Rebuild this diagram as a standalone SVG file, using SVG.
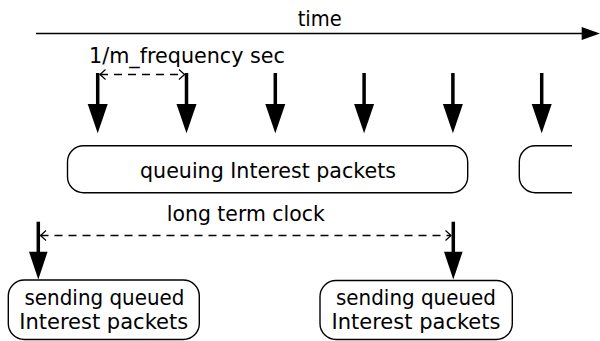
<svg xmlns="http://www.w3.org/2000/svg" width="600" height="341" viewBox="0 0 600 341">
<defs>
<style>
text{font-family:"DejaVu Sans","Liberation Sans",sans-serif;font-size:20.5px;fill:#000;text-anchor:middle}
.box{fill:#fff;stroke:#000;stroke-width:1.4}
.shaft{stroke:#000;stroke-width:3.5;fill:none}
.head{fill:#000;stroke:none}
.dash{stroke:#000;stroke-width:1.3;stroke-dasharray:8 6;fill:none}
.chev{stroke:#000;stroke-width:1.2;fill:none}
</style>
</defs>
<g id="connectors">
<line x1="36" y1="33.5" x2="584" y2="33.5" stroke="#000" stroke-width="1.6"/>
<polygon class="head" points="581.7,27 600,33.5 581.7,40"/>
<g id="ticks">
<line class="shaft" x1="97.7" y1="73" x2="97.7" y2="105"/><polygon class="head" points="87.7,104 107.7,104 97.7,133.3"/>
<line class="shaft" x1="186.5" y1="73" x2="186.5" y2="105"/><polygon class="head" points="176.5,104 196.5,104 186.5,133.3"/>
<line class="shaft" x1="275.3" y1="73" x2="275.3" y2="105"/><polygon class="head" points="265.3,104 285.3,104 275.3,133.3"/>
<line class="shaft" x1="364.1" y1="73" x2="364.1" y2="105"/><polygon class="head" points="354.1,104 374.1,104 364.1,133.3"/>
<line class="shaft" x1="452.9" y1="73" x2="452.9" y2="105"/><polygon class="head" points="442.9,104 462.9,104 452.9,133.3"/>
<line class="shaft" x1="541.7" y1="73" x2="541.7" y2="105"/><polygon class="head" points="531.7,104 551.7,104 541.7,133.3"/>
</g>
<line class="dash" x1="100" y1="74.5" x2="184.5" y2="74.5"/>
<polyline class="chev" points="105.5,69.5 100,74.5 105.5,79.5"/>
<polyline class="chev" points="179,69.5 184.5,74.5 179,79.5"/>
<line class="shaft" x1="38.3" y1="221.7" x2="38.3" y2="253"/><polygon class="head" points="29,251.7 47.6,251.7 38.3,279.5"/>
<line class="shaft" x1="453.3" y1="221.7" x2="453.3" y2="253"/><polygon class="head" points="444,251.7 462.6,251.7 453.3,279.5"/>
<line class="dash" x1="40.5" y1="235.5" x2="451" y2="235.5"/>
<polyline class="chev" points="46,230.5 40.5,235.5 46,240.5"/>
<polyline class="chev" points="445.5,230.5 451,235.5 445.5,240.5"/>
</g>
<g id="labels">
<text x="319.7" y="26" textLength="44" lengthAdjust="spacingAndGlyphs">time</text>
<text x="187" y="63" textLength="196" lengthAdjust="spacingAndGlyphs">1/m_frequency sec</text>
<text x="245.8" y="220.7" textLength="158" lengthAdjust="spacingAndGlyphs">long term clock</text>
</g>
<g id="queuing">
<rect class="box" x="67.5" y="145.7" width="400.2" height="47" rx="16" ry="16"/>
<text x="268" y="177.7" textLength="256" lengthAdjust="spacingAndGlyphs">queuing Interest packets</text>
</g>
<g id="queuing-next">
<path class="box" d="M572 145.7 H535.3 A16 16 0 0 0 519.3 161.7 V176.7 A16 16 0 0 0 535.3 192.7 H572"/>
</g>
<g id="sending1">
<rect class="box" x="8.3" y="280" width="191" height="59.5" rx="16" ry="16"/>
<text x="104.5" y="305" textLength="160" lengthAdjust="spacingAndGlyphs">sending queued</text>
<text x="103.7" y="329.3" textLength="169" lengthAdjust="spacingAndGlyphs">Interest packets</text>
</g>
<g id="sending2">
<rect class="box" x="320" y="280.5" width="192.3" height="59" rx="16" ry="16"/>
<text x="416" y="305" textLength="160" lengthAdjust="spacingAndGlyphs">sending queued</text>
<text x="416" y="329.3" textLength="169" lengthAdjust="spacingAndGlyphs">Interest packets</text>
</g>
</svg>
